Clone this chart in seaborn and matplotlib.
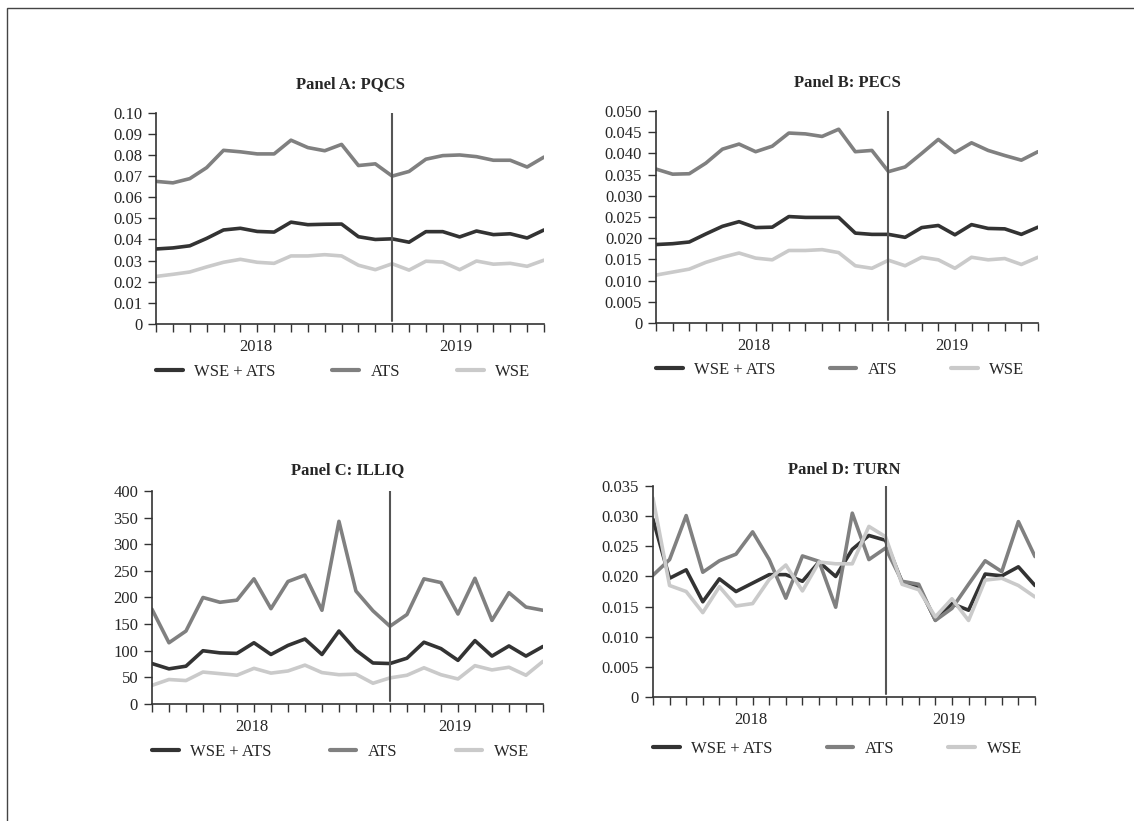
import matplotlib
matplotlib.use('Agg')
import matplotlib.pyplot as plt
import pandas as pd
import seaborn as sns

# 24 monthly observations, Jan 2018 - Dec 2019
months = list(range(24))
years = ['2018', '2019']
series_names = ['WSE + ATS', 'ATS', 'WSE']
break_month = 14

pqcs_all = [0.0355, 0.0360, 0.0370, 0.0405, 0.0445, 0.0453, 0.0438, 0.0435, 0.0482, 0.0470, 0.0472, 0.0473,
            0.0413, 0.0400, 0.0403, 0.0387, 0.0437, 0.0437, 0.0412, 0.0440, 0.0423, 0.0427, 0.0407, 0.0445]
pqcs_ats = [0.0675, 0.0668, 0.0688, 0.0740, 0.0822, 0.0815, 0.0805, 0.0805, 0.0870, 0.0835, 0.0820, 0.0850,
            0.0750, 0.0758, 0.0700, 0.0722, 0.0780, 0.0797, 0.0800, 0.0792, 0.0775, 0.0775, 0.0743, 0.0790]
pqcs_wse = [0.0225, 0.0235, 0.0246, 0.0270, 0.0292, 0.0306, 0.0292, 0.0287, 0.0322, 0.0322, 0.0328, 0.0322,
            0.0278, 0.0257, 0.0285, 0.0255, 0.0297, 0.0293, 0.0257, 0.0298, 0.0283, 0.0287, 0.0273, 0.0302]

pecs_all = [0.0185, 0.0187, 0.0191, 0.0210, 0.0228, 0.0239, 0.0225, 0.0226, 0.0251, 0.0249, 0.0249, 0.0249,
            0.0212, 0.0209, 0.0209, 0.0202, 0.0225, 0.0230, 0.0208, 0.0232, 0.0223, 0.0222, 0.0209, 0.0226]
pecs_ats = [0.0363, 0.0351, 0.0352, 0.0377, 0.0410, 0.0422, 0.0404, 0.0417, 0.0448, 0.0446, 0.0440, 0.0457,
            0.0404, 0.0407, 0.0357, 0.0368, 0.0400, 0.0433, 0.0402, 0.0425, 0.0407, 0.0395, 0.0384, 0.0404]
pecs_wse = [0.0113, 0.0120, 0.0127, 0.0143, 0.0155, 0.0165, 0.0153, 0.0149, 0.0171, 0.0171, 0.0173, 0.0166,
            0.0135, 0.0129, 0.0148, 0.0135, 0.0155, 0.0149, 0.0129, 0.0155, 0.0149, 0.0152, 0.0138, 0.0155]

illiq_all = [76, 66, 71, 100, 96, 95, 115, 93, 110, 122, 93, 137,
             101, 77, 76, 86, 116, 104, 82, 119, 90, 109, 90, 108]
illiq_ats = [178, 115, 137, 200, 191, 195, 235, 179, 230, 242, 176, 343,
             212, 175, 146, 168, 235, 228, 169, 236, 157, 209, 182, 176]
illiq_wse = [35, 46, 44, 60, 57, 54, 67, 58, 62, 73, 59, 55,
             56, 39, 49, 54, 68, 55, 47, 72, 64, 69, 54, 80]

turn_all = [0.0295, 0.0197, 0.0211, 0.0158, 0.0196, 0.0175, 0.0189, 0.0203, 0.0203, 0.0192, 0.0224, 0.0200,
            0.0245, 0.0268, 0.0260, 0.0190, 0.0183, 0.0128, 0.0155, 0.0144, 0.0204, 0.0201, 0.0216, 0.0185]
turn_ats = [0.0202, 0.0228, 0.0301, 0.0207, 0.0226, 0.0237, 0.0274, 0.0228, 0.0164, 0.0234, 0.0225, 0.0149,
            0.0305, 0.0228, 0.0247, 0.0192, 0.0187, 0.0127, 0.0147, 0.0187, 0.0226, 0.0208, 0.0291, 0.0233]
turn_wse = [0.0330, 0.0185, 0.0175, 0.0140, 0.0183, 0.0151, 0.0155, 0.0195, 0.0219, 0.0176, 0.0224, 0.0221,
            0.0221, 0.0283, 0.0266, 0.0187, 0.0178, 0.0133, 0.0163, 0.0127, 0.0194, 0.0197, 0.0185, 0.0166]

yticks_a = [0, 0.01, 0.02, 0.03, 0.04, 0.05, 0.06, 0.07, 0.08, 0.09, 0.10]
ylabels_a = ['0', '0.01', '0.02', '0.03', '0.04', '0.05', '0.06', '0.07', '0.08', '0.09', '0.10']
yticks_b = [0, 0.005, 0.010, 0.015, 0.020, 0.025, 0.030, 0.035, 0.040, 0.045, 0.050]
ylabels_b = ['0', '0.005', '0.010', '0.015', '0.020', '0.025', '0.030', '0.035', '0.040', '0.045', '0.050']
yticks_c = [0, 50, 100, 150, 200, 250, 300, 350, 400]
ylabels_c = ['0', '50', '100', '150', '200', '250', '300', '350', '400']
yticks_d = [0, 0.005, 0.010, 0.015, 0.020, 0.025, 0.030, 0.035]
ylabels_d = ['0', '0.005', '0.010', '0.015', '0.020', '0.025', '0.030', '0.035']

sns.set_style('ticks')
plt.rcParams['font.family'] = ['Liberation Serif', 'DejaVu Serif']
plt.rcParams['font.size'] = 12

colors = {'WSE + ATS': '#333333', 'ATS': '#808080', 'WSE': '#cacaca'}

fig = plt.figure(figsize=(11.34, 8.21), dpi=100)

panels = [
    ('Panel A: PQCS', [pqcs_all, pqcs_ats, pqcs_wse], yticks_a, ylabels_a, [0.1376, 0.6054, 0.3421, 0.2573], 18, 0.228),
    ('Panel B: PECS', [pecs_all, pecs_ats, pecs_wse], yticks_b, ylabels_b, [0.5785, 0.6066, 0.3368, 0.2582], 17, 0.222),
    ('Panel C: ILLIQ', [illiq_all, illiq_ats, illiq_wse], yticks_c, ylabels_c, [0.1340, 0.1425, 0.3448, 0.2595], 12, 0.225),
    ('Panel D: TURN', [turn_all, turn_ats, turn_wse], yticks_d, ylabels_d, [0.5758, 0.1510, 0.3369, 0.2570], 9, 0.245),
]

for title, values, yt, yl, pos, tpad, legy in panels:
    ax = fig.add_axes(pos)
    df = pd.DataFrame({
        'month': months * 3,
        'value': values[0] + values[1] + values[2],
        'series': [s for s in series_names for _ in months],
    })
    sns.lineplot(data=df, x='month', y='value', hue='series', hue_order=series_names,
                 palette=colors, linewidth=2.6, ax=ax)
    ax.axvline(break_month, ymin=0.015, ymax=1, color='#555555', linewidth=1.5, zorder=5)

    ax.set_xlim(0, 23)
    ax.set_ylim(yt[0], yt[-1])
    ax.set_yticks(yt, labels=yl)
    ax.set_xticks(months, labels=[''] * len(months))
    ax.set_xticks([5.9, 17.8], labels=years, minor=True)
    ax.tick_params(axis='x', which='major', direction='out', length=6, width=1, color='#333333')
    ax.tick_params(axis='x', which='minor', length=0, pad=11, labelsize=12)
    ax.tick_params(axis='y', direction='out', length=6, width=1, color='#333333', labelsize=12, pad=4)
    for side in ['top', 'right']:
        ax.spines[side].set_visible(False)
    for side in ['left', 'bottom']:
        ax.spines[side].set_color('#333333')
        ax.spines[side].set_linewidth(1.2)
    ax.set_xlabel('')
    ax.set_ylabel('')
    ax.set_title(title, fontweight='bold', fontsize=12, pad=tpad)

    handles, labels = ax.get_legend_handles_labels()
    for h in handles:
        h.set_linewidth(3)
    ax.legend(handles, labels, ncol=3, loc='center', bbox_to_anchor=(0.0, -legy - 0.05, 0.965, 0.1),
              mode='expand', frameon=False, handlelength=1.6, handletextpad=0.7, borderaxespad=0,
              borderpad=0, fontsize=12)

# outer frame (only top and left edges fall inside the image)
fig.add_artist(plt.Rectangle((7 / 1134, -0.1), 1.2, 1.0903, transform=fig.transFigure,
                             fill=False, edgecolor='#444444', linewidth=1))

fig.savefig('out.png', dpi=100)
